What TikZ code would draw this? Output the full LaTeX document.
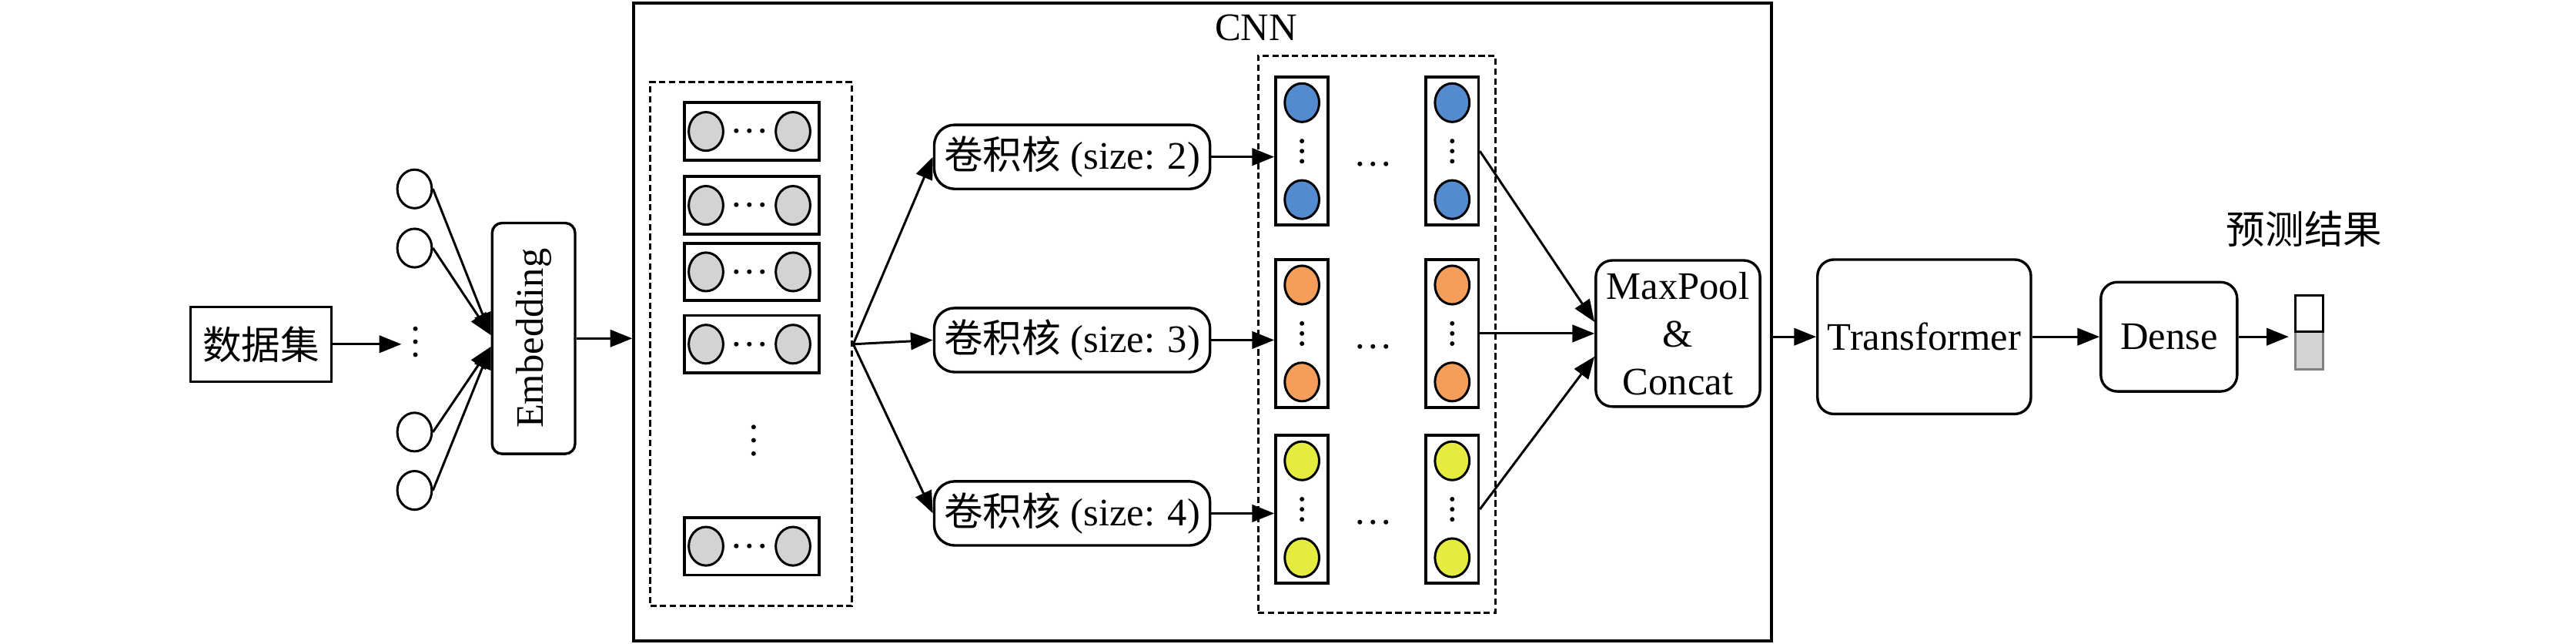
\documentclass[tikz,border=0pt]{standalone}
\usepackage{fontspec}
\setmainfont{Liberation Serif}
\newfontfamily\cjk{Noto Sans CJK SC}
\usepackage{graphicx}
\usetikzlibrary{arrows.meta,positioning,shapes.geometric}

\definecolor{cgray}{RGB}{211,211,211}
\definecolor{cblue}{RGB}{84,139,206}
\definecolor{corange}{RGB}{245,158,92}
\definecolor{cyellow}{RGB}{229,236,64}
% three stacked dots round a point, #2 apart
\newcommand{\vdotsat}[2]{\foreach \d in {-1,0,1} \fill ([yshift=\d*#2]#1) circle (0.8pt);}

\begin{document}
\begin{tikzpicture}[
    font=\fontsize{13.5}{16.5}\selectfont,
    box/.style={draw, line width=0.9pt, align=center, inner sep=0pt},
    rbox/.style={box, rounded corners=0.2cm},
    kernel/.style={box, rounded corners=0.25cm, minimum width=3.36cm, minimum height=0.78cm},
    dashbox/.style={draw, line width=0.8pt, dash pattern=on 2.2pt off 1.2pt, minimum width=#1},
    unit/.style={draw, ellipse, line width=0.8pt, minimum width=0.42cm, minimum height=0.47cm, inner sep=0pt},
    embrow/.style={draw, line width=1pt, minimum width=1.64cm, minimum height=0.70cm},
    featcol/.style={draw, line width=1pt, minimum width=0.64cm, minimum height=1.8cm},
    dotnode/.style={inner sep=0pt},
    outcell/.style={draw, line width=0.8pt, minimum width=0.34cm, inner sep=0pt, outer sep=0pt},
    arrow/.style={-{Triangle[length=2.7mm, width=2.1mm]}, line width=0.8pt}
  ]
    \useasboundingbox (0,0) rectangle (31.38,7.84);

    % input side
    \node[box, minimum width=1.72cm, minimum height=0.91cm] (data) at (3.18,3.65) {\cjk 数据集};
    \coordinate (indots) at (5.06,3.68);
    \vdotsat{indots}{4.5pt}
    \foreach \y [count=\i] in {5.54,4.82,2.58,1.87}
      \node[unit] (in\i) at (5.05,\y) {};
    \node[rbox, rounded corners=0.12cm, minimum width=1.01cm, minimum height=2.81cm] (emb) at (6.5,3.72) {\rotatebox{90}{Embedding}};
    \draw[arrow, shorten >=0.17cm] (data.east) -- (data.east -| indots);
    \foreach \i in {1,2}
      \draw[arrow] (in\i.east) -- ([yshift=0.04cm]emb.west);
    \foreach \i in {3,4}
      \draw[arrow] (in\i.east) -- ([yshift=-0.1cm]emb.west);

    % CNN block
    \node[draw, line width=1pt, minimum width=13.86cm, minimum height=7.76cm] (cnn) at (14.65,3.92) {};
    \node (cnnlabel) at (15.3,7.5) {CNN};
    \draw[arrow] (emb.east) -- (emb.east -| cnn.west);

    \node[dashbox=2.46cm, minimum height=6.38cm] (emat) at (9.15,3.65) {};
    \foreach \y [count=\i] in {6.24,5.34,4.53,3.65,1.19} {
      \node[embrow] (r\i) at (9.16,\y) {};
      \node[unit, fill=cgray] at (8.60,\y) {};
      \node[unit, fill=cgray] at (9.66,\y) {};
      \node[dotnode] at (9.13,\y) {\dots};
    }
    \coordinate (rdots) at (9.18,2.48);
    \vdotsat{rdots}{4.6pt}

    \foreach \y/\s [count=\i] in {5.93/2,3.70/3,1.59/4}
      \node[kernel] (k\i) at (13.06,\y) {{\cjk 卷积核} (size: \s)};
    \foreach \i in {1,2,3}
      \draw[arrow] (emat.east) -- (k\i.west);

    \node[dashbox=2.89cm, minimum height=6.78cm] (fmap) at (16.77,3.77) {};
    \foreach \y/\c [count=\i] in {6.0/cblue,3.78/corange,1.64/cyellow} {
      \node[featcol] (cl\i) at (15.86,\y) {};
      \node[featcol] (cr\i) at (17.69,\y) {};
      \foreach \p in {l,r} {
        \node[unit, fill=\c] at ([yshift=0.59cm]c\p\i.center) {};
        \node[unit, fill=\c] at ([yshift=-0.59cm]c\p\i.center) {};
        \vdotsat{c\p\i.center}{3.5pt}
      }
      \node[dotnode] at (16.73,\y-0.16) {\dots};
      \draw[arrow] (k\i.east) -- (k\i.east -| cl\i.west);
    }

    \node[rbox, minimum width=2.0cm, minimum height=1.78cm] (mp) at (20.44,3.78) {MaxPool\\\&\\Concat};
    \draw[arrow] (cr1.east) -- ([yshift=0.14cm]mp.west);
    \draw[arrow] (cr2.east) -- (mp.west);
    \draw[arrow] (cr3.east) -- ([yshift=-0.28cm]mp.west);

    % output side
    \node[rbox, minimum width=2.6cm, minimum height=1.88cm] (tr) at (23.44,3.74) {Transformer};
    \node[rbox, minimum width=1.66cm, minimum height=1.33cm, right=0.82cm of tr] (dense) {Dense};
    \node[outcell, fill=cgray, draw=gray, minimum height=0.46cm] (obot) at (28.13,3.57) {};
    \node[outcell, fill=white, minimum height=0.44cm, above=0pt of obot] (otop) {};
    \node (predlabel) at (28.07,5.05) {\cjk 预测结果};
    \draw[arrow] (tr.west -| cnn.east) -- (tr.west);
    \draw[arrow] (tr) -- (dense);
    \draw[arrow] (dense.east) -- ([xshift=-0.08cm]dense.east -| obot.west);
\end{tikzpicture}
\end{document}
